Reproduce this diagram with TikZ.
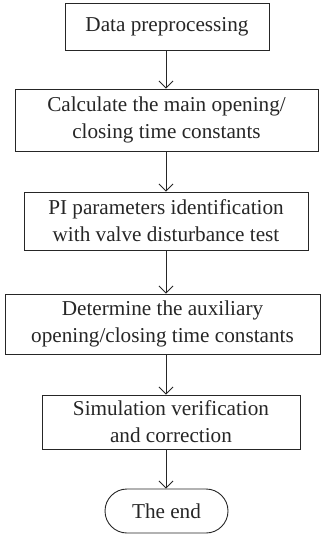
\documentclass[tikz,border=0pt]{standalone}
\usepackage{fontspec}
\setmainfont{Liberation Serif}
\usetikzlibrary{arrows.meta,shapes.misc}
\begin{document}
\begin{tikzpicture}[x=1pt,y=1pt,
  box/.style={draw=black!85,line width=0.9pt,rectangle,inner sep=0pt,align=center,font=\fontsize{21.2}{27}\selectfont,text=black!85},
  term/.style={draw=black!85,line width=0.9pt,rounded rectangle,inner sep=0pt,align=center,font=\fontsize{21.2}{27}\selectfont,text=black!85},
  arr/.style={draw=black!85,line width=0.9pt,-{Straight Barb[length=7pt,width=14pt,line width=0.9pt]}}]
\useasboundingbox (0,0) rectangle (322,-535);
\node[box,minimum width=204pt,minimum height=47pt] (b1) at (167,-26.5) {Data preprocessing};
\node[box,minimum width=303pt,minimum height=62pt] (b2) at (166.5,-120) {Calculate the main opening/\\closing time constants};
\node[box,minimum width=284pt,minimum height=58pt] (b3) at (166,-221) {PI parameters identification\\with valve disturbance test};
\node[box,minimum width=315pt,minimum height=60pt] (b4) at (162.5,-324) {Determine the auxiliary\\opening/closing time constants};
\node[box,minimum width=258pt,minimum height=54pt] (b5) at (171,-422) {Simulation verification\\and correction};
\node[term,minimum width=123pt,minimum height=44pt] (b6) at (166.5,-511) {The end};
\draw[arr] (b1.south -| 166,0) -- (b2.north -| 166,0);
\draw[arr] (b2.south -| 166,0) -- (b3.north -| 166,0);
\draw[arr] (b3.south -| 166,0) -- (b4.north -| 166,0);
\draw[arr] (b4.south -| 166,0) -- (b5.north -| 166,0);
\draw[arr] (b5.south -| 166,0) -- (b6.north -| 166,0);
\end{tikzpicture}
\end{document}
